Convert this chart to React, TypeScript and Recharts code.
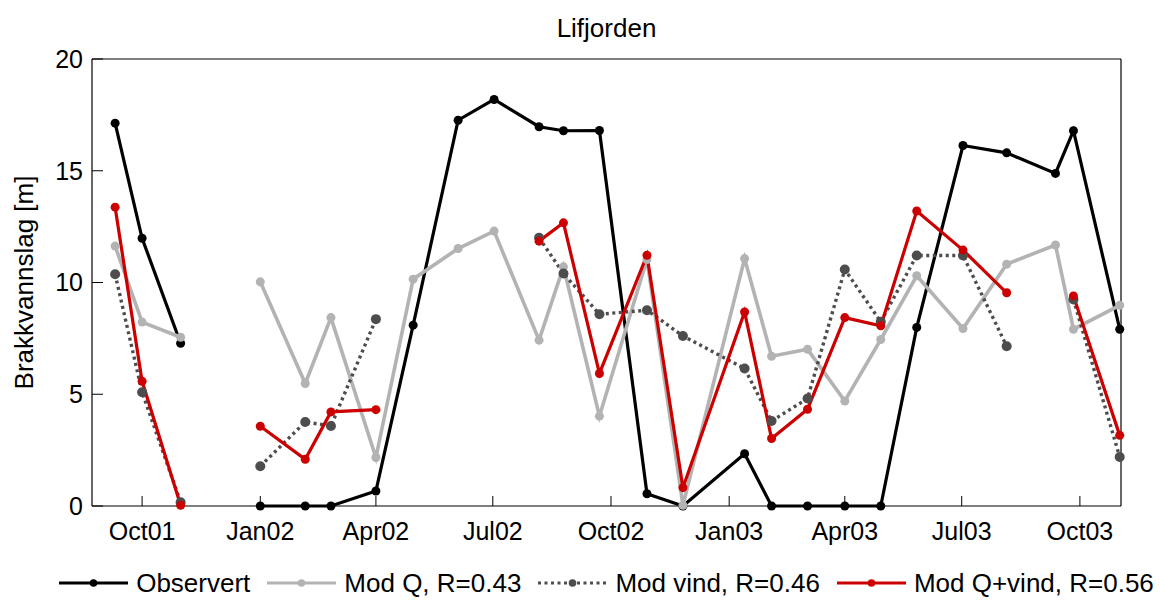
import { LineChart, Line, XAxis, YAxis, Legend } from 'recharts';

const FONT = '"Liberation Sans", Arial, Helvetica, sans-serif';

// sampling dates (the 2001-12-01 row is a gap, all values missing)
const dates = [
  '2001-09-10', '2001-10-01', '2001-10-31', '2001-12-01',
  '2002-01-01', '2002-02-05', '2002-02-25', '2002-04-01', '2002-04-30',
  '2002-06-04', '2002-07-02', '2002-08-06', '2002-08-25', '2002-09-22',
  '2002-10-29', '2002-11-26', '2003-01-13', '2003-02-03', '2003-03-03',
  '2003-04-01', '2003-04-29', '2003-05-27', '2003-07-02', '2003-08-05',
  '2003-09-12', '2003-09-26', '2003-11-01',
];

const observert = [
  17.13, 11.98, 7.28, null,
  0, 0, 0, 0.67, 8.09,
  17.26, 18.19, 16.97, 16.79, 16.8,
  0.55, 0, 2.34, 0, 0,
  0, 0, 7.99, 16.13, 15.8,
  14.88, 16.79, 7.91,
];

const modQ = [
  11.63, 8.23, 7.55, null,
  10.03, 5.48, 8.43, 2.17, 10.15,
  11.52, 12.3, 7.42, 10.7, 4.02,
  11.03, 0.03, 11.07, 6.7, 7.01,
  4.7, 7.45, 10.3, 7.94, 10.82,
  11.68, 7.91, 8.98,
];

const modVind = [
  10.37, 5.09, 0.17, null,
  1.78, 3.76, 3.58, 8.36, null,
  null, null, 12.0, 10.4, 8.58,
  8.76, 7.61, 6.15, 3.8, 4.81,
  10.58, 8.24, 11.21, 11.21, 7.15,
  null, 9.24, 2.19,
];

const modQVind = [
  13.37, 5.58, 0.03, null,
  3.57, 2.09, 4.21, 4.31, null,
  null, null, 11.85, 12.67, 5.93,
  11.22, 0.82, 8.68, 3.02, 4.33,
  8.43, 8.06, 13.2, 11.45, 9.54,
  null, 9.4, 3.16,
];

const tickDates = [
  '2001-10-01', '2002-01-01', '2002-04-01', '2002-07-01', '2002-10-01',
  '2003-01-01', '2003-04-01', '2003-07-01', '2003-10-01',
];
const yTicks = [0, 5, 10, 15, 20];
const xRange = ['2001-08-23', '2003-11-02'];

const months = ['Jan', 'Feb', 'Mar', 'Apr', 'May', 'Jun', 'Jul', 'Aug', 'Sep', 'Oct', 'Nov', 'Dec'];

const series = [
  { key: 'obs', name: 'Observert', color: '#000000', width: 3.2, dash: undefined, r: 4.5 },
  { key: 'q', name: 'Mod Q, R=0.43', color: '#b3b3b3', width: 3.6, dash: undefined, r: 4.5 },
  { key: 'vind', name: 'Mod vind, R=0.46', color: '#4d4d4d', width: 3.4, dash: '3 3.5', r: 5 },
  { key: 'qvind', name: 'Mod Q+vind, R=0.56', color: '#cc0000', width: 3.2, dash: undefined, r: 4.5 },
];

const data = dates.map((d, i) => ({
  t: Date.parse(d),
  obs: observert[i],
  q: modQ[i],
  vind: modVind[i],
  qvind: modQVind[i],
}));

const fmtDate = (t: number) => {
  const d = new Date(t);
  return months[d.getUTCMonth()] + String(d.getUTCFullYear()).slice(2);
};

const LegendContent = () => (
  <div
    style={{
      display: 'flex',
      justifyContent: 'center',
      alignItems: 'center',
      height: 34,
      paddingLeft: 53,
      fontFamily: FONT,
      fontSize: 26,
      color: '#000',
      whiteSpace: 'nowrap',
    }}
  >
    {series.map((s, i) => (
      <div key={s.key} style={{ display: 'flex', alignItems: 'center', marginLeft: i ? 17 : 0, flexShrink: 0 }}>
        <svg width={69} height={12} style={{ flexShrink: 0 }}>
          <line x1={0} y1={6} x2={69} y2={6} stroke={s.color} strokeWidth={3.2} strokeDasharray={s.dash} />
          <circle cx={34.5} cy={6} r={3.8} fill={s.color} />
        </svg>
        <span style={{ marginLeft: 8 }}>{s.name}</span>
      </div>
    ))}
  </div>
);

export default function App() {
  const domain = xRange.map((d) => Date.parse(d));
  const ticks = tickDates.map((d) => Date.parse(d));
  const tickStyle = { fill: '#000', fontSize: 25, fontFamily: FONT };
  const axisLine = { stroke: '#000', strokeWidth: 1.2 };

  return (
    <div style={{ position: 'absolute', left: 0, top: 0, background: '#fff' }}>
      <LineChart width={1160} height={601} data={data} margin={{ top: 58, right: 38, bottom: 1, left: 91 }}>
        <XAxis
          dataKey="t"
          type="number"
          domain={domain}
          ticks={ticks}
          tickFormatter={fmtDate}
          height={60}
          tickSize={-10}
          tickMargin={26}
          tick={tickStyle}
          axisLine={axisLine}
          tickLine={{ stroke: '#000' }}
        />
        <XAxis
          xAxisId="top"
          orientation="top"
          dataKey="t"
          type="number"
          domain={domain}
          ticks={ticks}
          height={1}
          tickSize={-10}
          tick={false}
          axisLine={axisLine}
          tickLine={{ stroke: '#000' }}
          label={{ value: 'Lifjorden', position: 'top', offset: 21, fill: '#000', fontSize: 26, fontFamily: FONT }}
        />
        <YAxis
          type="number"
          domain={[0, 20]}
          ticks={yTicks}
          width={1}
          tickSize={-11}
          tickMargin={20}
          tick={tickStyle}
          axisLine={axisLine}
          tickLine={{ stroke: '#000' }}
          label={{
            value: 'Brakkvannslag [m]',
            angle: -90,
            position: 'insideLeft',
            offset: -67,
            fill: '#000',
            fontSize: 26,
            fontFamily: FONT,
            style: { textAnchor: 'middle' },
          }}
        />
        <YAxis
          yAxisId="right"
          orientation="right"
          type="number"
          domain={[0, 20]}
          ticks={yTicks}
          width={1}
          tickSize={-11}
          tick={false}
          axisLine={axisLine}
          tickLine={{ stroke: '#000' }}
        />
        {series.map((s) => (
          <Line
            key={s.key}
            dataKey={s.key}
            name={s.name}
            stroke={s.color}
            strokeWidth={s.width}
            strokeDasharray={s.dash}
            dot={{ r: s.r, fill: s.color, stroke: s.color, strokeWidth: 0, strokeDasharray: '' }}
            activeDot={false}
            isAnimationActive={false}
          />
        ))}
        <Legend verticalAlign="bottom" content={<LegendContent />} wrapperStyle={{ left: 0, width: 1160, bottom: 1 }} />
      </LineChart>
    </div>
  );
}
